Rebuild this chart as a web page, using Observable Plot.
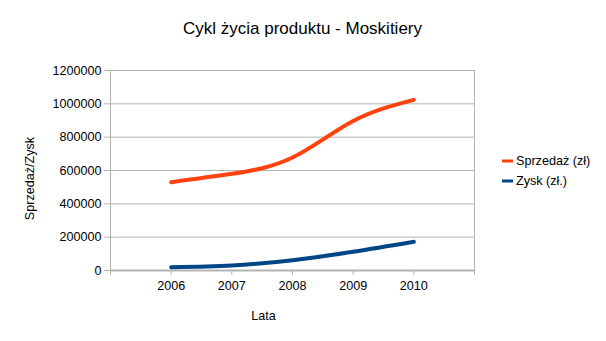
<!DOCTYPE html>
<html>
<head>
<meta charset="utf-8">
<script src="https://cdn.jsdelivr.net/npm/d3@7"></script>
<script src="https://cdn.jsdelivr.net/npm/@observablehq/plot@0.6"></script>
<style>
  html, body { margin: 0; padding: 0; background: #fff; }
  #chart { width: 606px; height: 341px; }
  svg { font-family: "Liberation Sans", Arial, sans-serif; }
</style>
</head>
<body>
<div id="chart"></div>
<script>
const years = [2006, 2007, 2008, 2009, 2010];
const sprzedaz = [530000, 580000, 678000, 897000, 1024000];
const zysk = [20000, 30000, 62000, 112000, 172000];
const seriesNames = ["Sprzedaż (zł)", "Zysk (zł.)"];
const seriesColors = ["#ff420e", "#004586"];
const xTickYears = [2005, 2006, 2007, 2008, 2009, 2010, 2011];
const xTickLabels = ["", "2006", "2007", "2008", "2009", "2010", ""];
const yTicks = [0, 200000, 400000, 600000, 800000, 1000000, 1200000];
const title = "Cykl życia produktu - Moskitiery";
const xLabel = "Lata";
const yLabel = "Sprzedaż/Zysk";

const data = [
  ...years.map((y, i) => ({year: y, value: sprzedaz[i], series: seriesNames[0]})),
  ...years.map((y, i) => ({year: y, value: zysk[i], series: seriesNames[1]}))
];

const grid = "#b3b3b3";

const plot = Plot.plot({
  width: 606,
  height: 341,
  marginLeft: 110,
  marginRight: 132,
  marginTop: 70,
  marginBottom: 71,
  style: {fontFamily: "'Liberation Sans', Arial, sans-serif", fontSize: "12.6px", color: "#000", background: "#fff"},
  x: {domain: [2005, 2011]},
  y: {domain: [0, 1200000]},
  color: {domain: seriesNames, range: seriesColors},
  marks: [
    Plot.gridY(yTicks, {stroke: grid, strokeOpacity: 1}),
    Plot.ruleX([2005, 2011], {stroke: grid, strokeWidth: 1}),
    Plot.ruleY([0], {stroke: grid, strokeWidth: 2}),
    Plot.axisY(yTicks, {tickSize: 6, tickPadding: 3, stroke: grid, tickFormat: d3.format("d"), label: null, fill: "#000", fontSize: 12.6}),
    Plot.axisX(xTickYears, {tickSize: 5, tickPadding: 6, stroke: grid, tickFormat: (d, i) => xTickLabels[xTickYears.indexOf(d)], label: null, fill: "#000", fontSize: 12.6}),
    Plot.line(data, {x: "year", y: "value", z: "series", stroke: "series", strokeWidth: 4, curve: "natural"}),
    Plot.text([title], {frameAnchor: "top", dy: -42, dx: 10, fontSize: 17, fill: "#000", lineAnchor: "middle"}),
    Plot.text([xLabel], {frameAnchor: "bottom", dy: 45, dx: -29, fontSize: 12.6, fill: "#000", lineAnchor: "middle"}),
    Plot.text([yLabel], {frameAnchor: "left", dx: -81, dy: 8, rotate: -90, fontSize: 12.6, fill: "#000", lineAnchor: "middle", textAnchor: "middle"})
  ]
});

// Legend drawn into the same SVG
const svg = d3.select(plot);
const lg = svg.append("g").attr("font-size", 12.6).attr("text-anchor", "start").attr("font-family", "'Liberation Sans', Arial, sans-serif");
seriesNames.forEach((name, i) => {
  const y = 161 + i * 20;
  lg.append("line").attr("x1", 502).attr("x2", 513).attr("y1", y).attr("y2", y)
    .attr("stroke", seriesColors[i]).attr("stroke-width", 3);
  lg.append("text").attr("x", 516).attr("y", y).attr("dy", "0.35em").attr("text-anchor", "start").attr("fill", "#000").text(name);
});

document.getElementById("chart").appendChild(plot);
</script>
</body>
</html>
